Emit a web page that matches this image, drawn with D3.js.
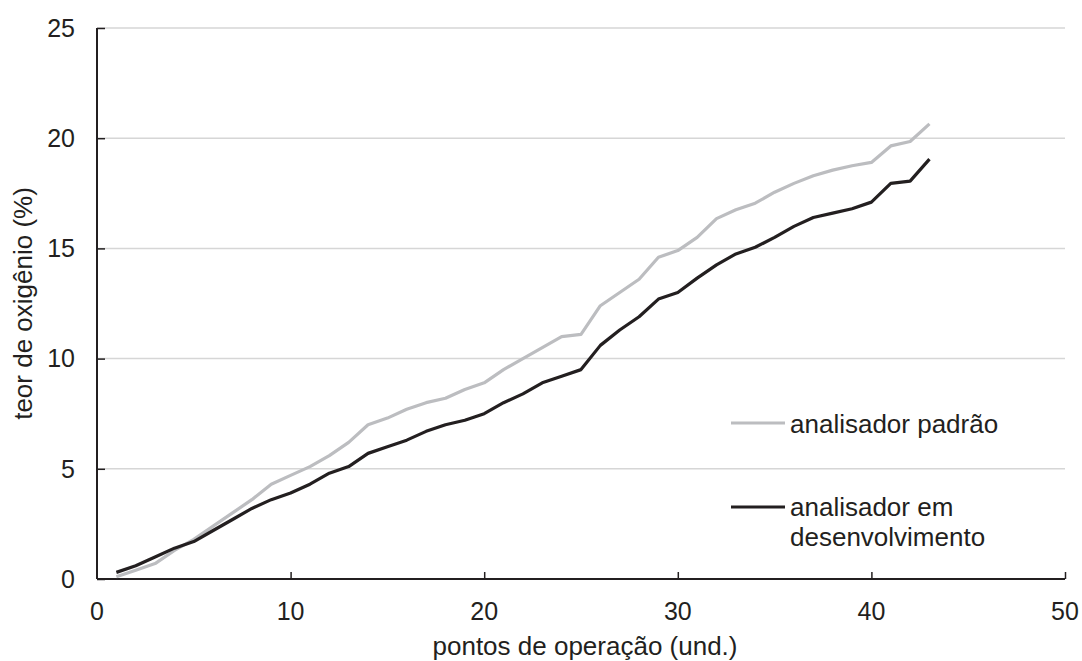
<!DOCTYPE html>
<html>
<head>
<meta charset="utf-8">
<script src="https://cdn.jsdelivr.net/npm/d3@7"></script>
<style>
  html, body { margin: 0; padding: 0; background: #fff; }
  svg { display: block; }
  text { font-family: "Liberation Sans", Arial, sans-serif; fill: #231f20; }
</style>
</head>
<body>
<svg id="chart" width="1082" height="661"></svg>
<script>
// Operating points (und.)
const points = d3.range(1, 44);

// Oxygen content (%) — reference analyser
const padrao = [0.1, 0.4, 0.7, 1.3, 1.8, 2.4, 3.0, 3.6, 4.3, 4.7,
  5.1, 5.6, 6.2, 7.0, 7.3, 7.7, 8.0, 8.2, 8.6, 8.9,
  9.5, 10.0, 10.5, 11.0, 11.1, 12.4, 13.0, 13.6, 14.6, 14.9,
  15.5, 16.35, 16.75, 17.05, 17.55, 17.95, 18.3, 18.55, 18.75, 18.9,
  19.65, 19.85, 20.65];

// Oxygen content (%) — analyser under development
const desenvolvimento = [0.3, 0.6, 1.0, 1.4, 1.7, 2.2, 2.7, 3.2, 3.6, 3.9,
  4.3, 4.8, 5.1, 5.7, 6.0, 6.3, 6.7, 7.0, 7.2, 7.5,
  8.0, 8.4, 8.9, 9.2, 9.5, 10.6, 11.3, 11.9, 12.7, 13.0,
  13.65, 14.25, 14.75, 15.05, 15.5, 16.0, 16.4, 16.6, 16.8, 17.1,
  17.95, 18.05, 19.05];

const xTicks = [0, 10, 20, 30, 40, 50];
const yTicks = [0, 5, 10, 15, 20, 25];
const seriesNames = ["analisador padrão", "analisador em desenvolvimento"];

const svg = d3.select("#chart");
const plotL = 97, plotR = 1065, plotT = 28, plotB = 579;

const x = d3.scaleLinear().domain([0, 50]).range([plotL, plotR]);
const y = d3.scaleLinear().domain([0, 25]).range([plotB, plotT]);

// horizontal gridlines
svg.append("g")
  .selectAll("line")
  .data(yTicks.filter(d => d > 0))
  .join("line")
  .attr("x1", plotL).attr("x2", plotR)
  .attr("y1", d => y(d)).attr("y2", d => y(d))
  .attr("stroke", "#d6d6d6").attr("stroke-width", 1.5);

// y axis (ticks pointing inward)
const yAxis = svg.append("g")
  .attr("transform", `translate(${plotL},0)`)
  .call(d3.axisRight(y).tickValues(yTicks).tickSize(8).tickFormat(""));
yAxis.select(".domain").attr("stroke", "#231f20").attr("stroke-width", 2)
  .attr("d", `M0,${plotT}V${plotB}`);
yAxis.selectAll(".tick line").attr("stroke", "#231f20").attr("stroke-width", 1.5);

svg.append("g")
  .selectAll("text")
  .data(yTicks)
  .join("text")
  .attr("x", 75).attr("y", d => y(d))
  .attr("dy", "0.35em")
  .attr("text-anchor", "end")
  .attr("font-size", 25)
  .text(d => d);

// x axis (ticks pointing inward)
const xAxis = svg.append("g")
  .attr("transform", `translate(0,${plotB})`)
  .call(d3.axisTop(x).tickValues(xTicks.filter(d => d > 0)).tickSize(7).tickFormat(""));
xAxis.select(".domain").attr("stroke", "#231f20").attr("stroke-width", 2)
  .attr("d", `M${plotL},0H${plotR}`);
xAxis.selectAll(".tick line").attr("stroke", "#231f20").attr("stroke-width", 1.5);

svg.append("g")
  .selectAll("text")
  .data(xTicks)
  .join("text")
  .attr("x", d => x(d)).attr("y", 620)
  .attr("text-anchor", "middle")
  .attr("font-size", 25)
  .text(d => d);

// axis titles
svg.append("text")
  .attr("x", (plotL + plotR) / 2 + 4).attr("y", 655)
  .attr("text-anchor", "middle")
  .attr("font-size", 26)
  .text("pontos de operação (und.)");

svg.append("text")
  .attr("transform", `translate(32,${(plotT + plotB) / 2}) rotate(-90)`)
  .attr("text-anchor", "middle")
  .attr("font-size", 26)
  .text("teor de oxigênio (%)");

// series lines
const line = d3.line().x((d, i) => x(points[i])).y(d => y(d));

svg.append("path")
  .datum(padrao)
  .attr("d", line)
  .attr("fill", "none")
  .attr("stroke", "#bcbdc0")
  .attr("stroke-width", 3.2)
  .attr("stroke-linejoin", "round");

svg.append("path")
  .datum(desenvolvimento)
  .attr("d", line)
  .attr("fill", "none")
  .attr("stroke", "#231f20")
  .attr("stroke-width", 3.2)
  .attr("stroke-linejoin", "round");

// legend
const legend = svg.append("g");
legend.append("line")
  .attr("x1", 731).attr("x2", 785).attr("y1", 423).attr("y2", 423)
  .attr("stroke", "#bcbdc0").attr("stroke-width", 3.2);
legend.append("text")
  .attr("x", 790).attr("y", 432.5)
  .attr("font-size", 26)
  .text(seriesNames[0]);

legend.append("line")
  .attr("x1", 731).attr("x2", 785).attr("y1", 507).attr("y2", 507)
  .attr("stroke", "#231f20").attr("stroke-width", 3.2);
const t2 = legend.append("text")
  .attr("x", 790).attr("y", 516)
  .attr("font-size", 26);
t2.append("tspan").attr("x", 790).text("analisador em");
t2.append("tspan").attr("x", 790).attr("dy", 30).text("desenvolvimento");
</script>
</body>
</html>
